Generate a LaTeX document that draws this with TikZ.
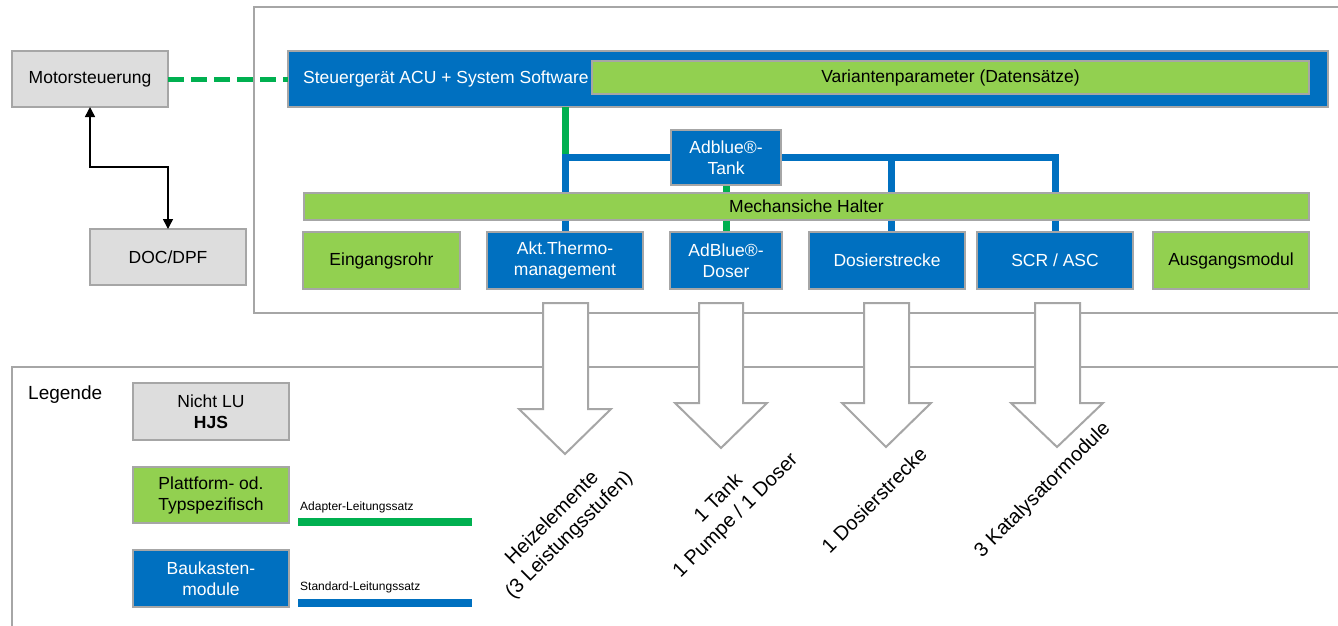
\documentclass[tikz,border=0pt]{standalone}
\usepackage{fontspec}
\setmainfont{Liberation Sans}
\usetikzlibrary{arrows.meta}
\definecolor{acublue}{HTML}{0070C0}
\definecolor{lgreen}{HTML}{92D050}
\definecolor{dgreen}{HTML}{00B050}
\definecolor{bgray}{HTML}{DDDDDD}
\definecolor{lgray}{HTML}{A6A6A6}
\begin{document}
\begin{tikzpicture}[x=1pt,y=-1pt,
  box/.style={draw=lgray, line width=1.8pt, inner sep=0pt, outer sep=0pt, align=center, font=\fontsize{17.5}{21}\selectfont},
  graybox/.style={box, fill=bgray, text=black},
  greenbox/.style={box, fill=lgreen, text=black},
  bluebox/.style={box, fill=acublue, text=white},
  bluewire/.style={acublue, line width=7pt},
  greenwire/.style={dgreen, line width=7pt},
  frame/.style={draw=lgray, line width=1.8pt},
  bigarrow/.style={draw=lgray, fill=white, line width=2pt, line join=miter},
  rotlabel/.style={rotate=45, align=center, font=\fontsize{20}{24}\selectfont},
  smalllabel/.style={anchor=base west, inner sep=0pt, font=\fontsize{12}{14}\selectfont}
]
\useasboundingbox (0,0) rectangle (1338,625);
\fill[white] (0,0) rectangle (1338,625);

% frames
\draw[frame] (254,7) rectangle (1350,313);
\draw[frame] (12,367) rectangle (1350,640);

% big output arrows
\draw[bigarrow] (543,303) -- (588,303) -- (588,409) -- (611,409) -- (565,454) -- (519,409) -- (543,409) -- cycle;
\draw[bigarrow] (699,303) -- (743,303) -- (743,403) -- (767,403) -- (721,448) -- (675,403) -- (699,403) -- cycle;
\draw[bigarrow] (864,303) -- (909,303) -- (909,403) -- (931,403) -- (886,447) -- (842,403) -- (864,403) -- cycle;
\draw[bigarrow] (1035,303) -- (1080,303) -- (1080,403) -- (1103,403) -- (1057,447) -- (1011,403) -- (1035,403) -- cycle;

% nodes
\node[graybox, minimum width=156pt, minimum height=56pt] (mot) at (90,79) {Motorsteuerung};
\node[graybox, minimum width=156pt, minimum height=56pt] (doc) at (168,257) {DOC/DPF};
\node[bluebox, minimum width=1040pt, minimum height=56pt] (acu) at (808,79) {};
\node[anchor=west, inner sep=0pt, text=white, font=\fontsize{17.5}{21}\selectfont] (acutext) at (303,79) {Steuergerät ACU + System Software};
\node[greenbox, minimum width=717pt, minimum height=33pt] (var) at (950.5,77.5) {Variantenparameter (Datensätze)};

\node[bluebox, minimum width=156pt, minimum height=57pt] (thermo) at (565,260.5) {Akt.Thermo-\\management};
\node[bluebox, minimum width=110pt, minimum height=55pt] (tank) at (726,157.5) {Adblue®-\\Tank};
\node[bluebox, minimum width=112pt, minimum height=57pt] (doser) at (726,260.5) {AdBlue®-\\Doser};
\node[bluebox, minimum width=156pt, minimum height=57pt] (dos) at (887,260.5) {Dosierstrecke};
\node[bluebox, minimum width=156pt, minimum height=57pt] (scr) at (1055,260.5) {SCR / ASC};

% connectors (behind halter)
\draw[greenwire] (acu.south -| thermo.north) -- ++(0,51);
\draw[bluewire] (thermo.north) |- (tank.west);
\draw[bluewire] (tank.east) -| (scr.north);
\coordinate (dosj) at (891,157.5);
\draw[bluewire] (dos.north -| dosj) -- (dosj);
\draw[greenwire] (tank.south) -- (doser.north);

\node[greenbox, minimum width=1005pt, minimum height=27pt] (halter) at (806.5,206.5) {Mechansiche Halter};
\node[greenbox, minimum width=157pt, minimum height=57pt] (ein) at (381.5,260.5) {Eingangsrohr};
\node[greenbox, minimum width=156pt, minimum height=57pt] (aus) at (1231,260.5) {Ausgangsmodul};

% redraw boxes on top of wires
\node[bluebox, minimum width=156pt, minimum height=57pt] at (thermo) {Akt.Thermo-\\management};
\node[bluebox, minimum width=112pt, minimum height=57pt] at (doser) {AdBlue®-\\Doser};
\node[bluebox, minimum width=156pt, minimum height=57pt] at (dos) {Dosierstrecke};
\node[bluebox, minimum width=156pt, minimum height=57pt] at (scr) {SCR / ASC};
\node[bluebox, minimum width=110pt, minimum height=55pt] at (tank) {Adblue®-\\Tank};

% Motorsteuerung connections
\draw[dgreen, line width=5pt, dash pattern=on 16pt off 7pt] (mot.east) -- (acu.west);
\draw[black, line width=1.5pt, {Triangle[width=10pt,length=10pt]}-{Triangle[width=10pt,length=10pt]}] (mot.south) -- ++(0,60) -| (doc.north);

% rotated labels
\node[rotlabel] (l1) at (561,527) {Heizelemente\\(3 Leistungsstufen)};
\node[rotlabel] (l2) at (727.5,507.5) {1 Tank\\1 Pumpe / 1 Doser};
\node[rotlabel] (l3) at (874,500) {1 Dosierstrecke};
\node[rotlabel] (l4) at (1043,490) {3 Katalysatormodule};

% legend
\node[anchor=base west, inner sep=0pt, font=\fontsize{19}{22}\selectfont] (leg) at (28,399) {Legende};
\node[graybox, minimum width=156pt, minimum height=57pt] (hjs) at (211,411.5) {Nicht LU\\\textbf{HJS}};
\node[greenbox, minimum width=156pt, minimum height=56pt] (plat) at (211,495) {Plattform- od.\\Typspezifisch};
\node[bluebox, minimum width=156pt, minimum height=57pt] (bauk) at (211,578.5) {Baukasten-\\module};
\node[smalllabel] (adl) at (300,510) {Adapter-Leitungssatz};
\node[smalllabel] (stl) at (300,590) {Standard-Leitungssatz};
\coordinate (ga) at (298,522);
\coordinate (gb) at (472,522);
\coordinate (ba) at (298,603);
\coordinate (bb) at (472,603);
\draw[dgreen, line width=8pt] (ga) -- (gb);
\draw[acublue, line width=8pt] (ba) -- (bb);
\end{tikzpicture}
\end{document}
